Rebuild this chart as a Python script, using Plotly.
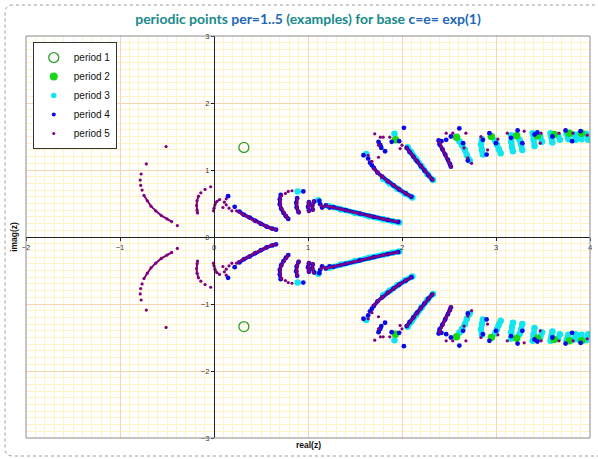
import plotly.graph_objects as go

# ---- periodic points of z -> exp(z) (base c = e) ----
# period 1: the fixed point pair
p1_re = [0.318, 0.318]
p1_im = [1.337, -1.337]

# period 2: points in the upper half plane (conjugates added below)
p2_upper = [(1.93, 1.45), (2.58, 1.49), (2.95, 1.50), (3.22, 1.51),
            (3.44, 1.51), (3.62, 1.53), (3.78, 1.55), (3.91, 1.55)]

# period 3: upper half plane, grouped into branches (single points are lone dots)
p3_upper = [
    [(0.89, 0.68)], [(1.11, 0.55)], [(1.62, 1.24)], [(1.92, 1.54)],
    [(1.22, 0.46), (1.35, 0.41), (1.50, 0.36), (1.65, 0.31), (1.80, 0.265), (1.90, 0.235), (1.97, 0.215)],
    [(1.80, 0.87), (1.87, 0.80), (1.95, 0.72), (2.03, 0.65), (2.11, 0.59)],
    [(2.06, 1.34), (2.10, 1.26), (2.15, 1.16), (2.21, 1.05), (2.27, 0.94), (2.33, 0.85)],
    [(2.61, 1.43), (2.64, 1.37), (2.67, 1.30), (2.69, 1.22), (2.72, 1.14)],
    [(2.85, 1.46), (2.84, 1.38), (2.85, 1.30), (2.86, 1.23)],
    [(2.99, 1.44), (3.01, 1.38), (3.03, 1.31), (3.05, 1.25)],
    [(3.16, 1.52), (3.16, 1.42), (3.17, 1.34), (3.18, 1.28)],
    [(3.25, 1.45), (3.27, 1.38), (3.28, 1.30)],
    [(3.39, 1.55), (3.40, 1.45), (3.41, 1.36)],
    [(3.47, 1.50), (3.49, 1.42)],
    [(3.58, 1.55), (3.59, 1.48), (3.60, 1.41)],
    [(3.66, 1.52), (3.68, 1.45)],
    [(3.75, 1.54), (3.77, 1.46)],
    [(3.83, 1.53), (3.85, 1.45)],
    [(3.89, 1.54), (3.91, 1.46)],
    [(3.96, 1.54), (3.98, 1.45)],
]

# period 4
p4_upper = [
    [(0.15, 0.61)], [(0.22, 0.45)],
    [(0.27, 0.38), (0.32, 0.33), (0.38, 0.29), (0.44, 0.24), (0.50, 0.195), (0.56, 0.155), (0.62, 0.125), (0.66, 0.11)],
    [(0.71, 0.63), (0.70, 0.56), (0.70, 0.49), (0.715, 0.42), (0.74, 0.36), (0.765, 0.31), (0.79, 0.27)],
    [(0.95, 0.68)],
    [(0.885, 0.58), (0.875, 0.51), (0.88, 0.44), (0.90, 0.37)],
    [(1.01, 0.52), (1.00, 0.45), (1.01, 0.39)],
    [(1.065, 0.53), (1.045, 0.47), (1.05, 0.41)],
    [(1.12, 0.54)], [(1.13, 0.49)], [(1.15, 0.44)], [(1.19, 0.47)], [(1.23, 0.44)],
    [(1.27, 0.445), (1.40, 0.40), (1.55, 0.35), (1.70, 0.30), (1.85, 0.255), (1.96, 0.225)],
    [(1.70, 1.03), (1.74, 0.96), (1.79, 0.90), (1.85, 0.83), (1.91, 0.77), (1.97, 0.71), (2.04, 0.65), (2.10, 0.60)],
    [(1.59, 1.22)], [(1.66, 1.11)], [(1.68, 1.07)], [(1.64, 1.17)],
    [(1.75, 1.42), (1.77, 1.37), (1.78, 1.33)], [(1.82, 1.28)], [(1.89, 1.42)],
    [(2.02, 1.63)], [(1.97, 1.43)],
    [(2.05, 1.33), (2.08, 1.27), (2.12, 1.20), (2.16, 1.13), (2.20, 1.06), (2.24, 0.99), (2.28, 0.92), (2.32, 0.86)],
    [(2.39, 1.44), (2.40, 1.38), (2.43, 1.31), (2.46, 1.23), (2.49, 1.15), (2.51, 1.09), (2.52, 1.05)],
    [(2.42, 1.43)], [(2.47, 1.45)], [(2.52, 1.50)], [(2.61, 1.62)], [(2.65, 1.40)], [(2.70, 1.14)],
    [(2.86, 1.45)], [(2.90, 1.23)], [(2.93, 1.55)], [(3.00, 1.40)],
    [(3.16, 1.48)], [(3.23, 1.59)], [(3.28, 1.40)], [(3.41, 1.53)], [(3.44, 1.56)],
    [(3.60, 1.50)], [(3.74, 1.59)], [(3.81, 1.43)], [(3.90, 1.58)],
]

# period 5
p5_upper = [
    [(-0.51, 1.35)],
    [(-0.72, 1.09)], [(-0.775, 0.94)], [(-0.785, 0.85)], [(-0.78, 0.77)], [(-0.765, 0.70)],
    [(-0.745, 0.62), (-0.71, 0.54), (-0.67, 0.46), (-0.62, 0.39), (-0.56, 0.32), (-0.50, 0.27), (-0.45, 0.23)],
    [(-0.39, 0.17)],
    [(-0.035, 0.75)], [(-0.095, 0.71)], [(-0.14, 0.66)],
    [(-0.165, 0.61), (-0.18, 0.54), (-0.185, 0.47), (-0.18, 0.40), (-0.175, 0.36)],
    [(0.06, 0.56), (0.03, 0.53), (0.01, 0.48), (0.0, 0.43), (-0.005, 0.39)],
    [(0.095, 0.44)], [(0.13, 0.48)], [(0.16, 0.43)], [(0.19, 0.39)], [(0.13, 0.57)], [(0.11, 0.52)],
    [(0.24, 0.39), (0.30, 0.34), (0.36, 0.30), (0.42, 0.25), (0.48, 0.21), (0.54, 0.17), (0.60, 0.13), (0.65, 0.11)],
    [(0.72, 0.62), (0.705, 0.55), (0.705, 0.48), (0.72, 0.42), (0.745, 0.36), (0.77, 0.31), (0.785, 0.28)],
    [(0.76, 0.65)], [(0.79, 0.68)], [(0.83, 0.69)],
    [(0.885, 0.57), (0.88, 0.50), (0.885, 0.43), (0.905, 0.36)],
    [(1.01, 0.52), (1.005, 0.45), (1.01, 0.38)],
    [(1.06, 0.53), (1.045, 0.47), (1.055, 0.40)],
    [(1.14, 0.47)], [(1.17, 0.45)], [(1.20, 0.47)],
    [(1.23, 0.455), (1.35, 0.415), (1.50, 0.365), (1.65, 0.315), (1.80, 0.27), (1.95, 0.23)],
    [(1.70, 1.02), (1.74, 0.96), (1.79, 0.90), (1.85, 0.83), (1.91, 0.77), (1.97, 0.71), (2.04, 0.65), (2.09, 0.61)],
    [(1.71, 1.54)], [(1.77, 1.49)], [(1.80, 1.49)], [(1.87, 1.49)], [(1.75, 1.19)], [(1.75, 1.37)],
    [(1.98, 1.32)], [(2.00, 1.37)], [(1.64, 1.22)], [(1.68, 1.13)],
    [(2.05, 1.33), (2.10, 1.24), (2.15, 1.15), (2.20, 1.06), (2.25, 0.97), (2.30, 0.89), (2.33, 0.85)],
    [(2.40, 1.42), (2.42, 1.35), (2.44, 1.28), (2.47, 1.20), (2.50, 1.12), (2.52, 1.05)],
    [(2.47, 1.55)], [(2.54, 1.55)], [(2.68, 1.55)], [(2.70, 1.18)], [(2.74, 1.10)], [(2.66, 1.33)],
    [(2.84, 1.50)], [(3.02, 1.46)], [(2.91, 1.30)],
    [(3.12, 1.55)], [(3.30, 1.58)], [(3.48, 1.55)], [(3.47, 1.40)], [(3.67, 1.55)], [(3.82, 1.55)], [(3.97, 1.52)],
]


def conjugate_pairs(branches):
    """Flatten branches of the upper half plane and add their complex conjugates."""
    re, im = [], []
    for sign in (1, -1):
        for branch in branches:
            for a, b in branch:
                re.append(a)
                im.append(sign * b)
            re.append(None)
            im.append(None)
    return re, im


p2_re, p2_im = conjugate_pairs([[pt] for pt in p2_upper])
p3_re, p3_im = conjugate_pairs(p3_upper)
p4_re, p4_im = conjugate_pairs(p4_upper)
p5_re, p5_im = conjugate_pairs(p5_upper)

C1, C2, C3, C4, C5 = "#2e9e2e", "#16d816", "#12e4f0", "#0a0ae6", "#80007f"

fig = go.Figure()

# branches drawn as dotted strokes
fig.add_trace(go.Scatter(x=p3_re, y=p3_im, mode="lines+markers", showlegend=False,
                         line=dict(color=C3, width=5.5), marker=dict(color=C3, size=6.5)))
fig.add_trace(go.Scatter(x=p2_re, y=p2_im, mode="markers", showlegend=False,
                         marker=dict(color=C2, size=7.5)))
fig.add_trace(go.Scatter(x=p4_re, y=p4_im, mode="lines+markers", showlegend=False,
                         line=dict(color=C4, width=3.6), marker=dict(color=C4, size=4.8)))
fig.add_trace(go.Scatter(x=p5_re, y=p5_im, mode="lines+markers", showlegend=False,
                         line=dict(color=C5, width=2), marker=dict(color=C5, size=3.2)))
fig.add_trace(go.Scatter(x=p1_re, y=p1_im, mode="markers", name="period 1",
                         marker=dict(color="rgba(0,0,0,0)", size=10, line=dict(color=C1, width=1.3))))

# legend entries
fig.add_trace(go.Scatter(x=[None], y=[None], mode="markers", name="period 2",
                         marker=dict(color=C2, size=8)))
fig.add_trace(go.Scatter(x=[None], y=[None], mode="markers", name="period 3",
                         marker=dict(color=C3, size=5.5)))
fig.add_trace(go.Scatter(x=[None], y=[None], mode="markers", name="period 4",
                         marker=dict(color=C4, size=4)))
fig.add_trace(go.Scatter(x=[None], y=[None], mode="markers", name="period 5",
                         marker=dict(color=C5, size=3)))

MAJOR = "#f9d4b0"
MINOR = "#fdf3c6"
axis_common = dict(
    dtick=1, tick0=0, showgrid=True, gridcolor=MAJOR, gridwidth=1,
    minor=dict(dtick=0.1, showgrid=True, gridcolor=MINOR, gridwidth=1),
    zeroline=False, showline=True, linecolor="#222", linewidth=1.3,
    ticks="outside", ticklen=3, tickcolor="#222", tickwidth=1,
    tickfont=dict(family="Liberation Sans, Arial", size=7.5, color="#333"),
    anchor="free", fixedrange=True,
)

fig.update_layout(
    width=598, height=459, autosize=False,
    margin=dict(l=26, r=6, t=36, b=21),
    paper_bgcolor="white", plot_bgcolor="white",
    xaxis=dict(range=[-2, 4], position=0.5, **axis_common),
    yaxis=dict(range=[-3, 3], position=1 / 3, **axis_common),
    title=dict(
        text=("<b><span style='color:#178a8c'>periodic points </span>"
              "<span style='color:#2267b8'>per=1..5</span>"
              "<span style='color:#178a8c'> (examples) for base </span>"
              "<span style='color:#2267b8'>c=e= exp(1)</span></b>"),
        x=0.5, xref="paper", xanchor="center", y=1 - 19 / 459, yanchor="middle",
        font=dict(family="Lato, Open Sans, sans-serif", size=14),
    ),
    legend=dict(x=0.012, y=0.985, xanchor="left", yanchor="top",
                bgcolor="white", bordercolor="#333", borderwidth=1,
                font=dict(family="Liberation Sans, Arial", size=10, color="#111"),
                itemwidth=30, tracegroupgap=0),
    annotations=[
        dict(text="<b>real(z)</b>", xref="paper", yref="paper", x=0.5, y=-0.035,
             showarrow=False, font=dict(family="Liberation Sans, Arial", size=8.5, color="#111")),
        dict(text="<b>imag(z)</b>", xref="paper", yref="paper", x=-0.034, y=0.5, textangle=-90,
             showarrow=False, font=dict(family="Liberation Sans, Arial", size=8.5, color="#111")),
    ],
    shapes=[
        # frame around the plotting area
        dict(type="rect", xref="paper", yref="paper", x0=0, y0=0, x1=1, y1=1,
             line=dict(color="#8a8a8a", width=1)),
        # dotted rounded page outline
        dict(type="path", xref="paper", yref="paper",
             path=("M 1.03,1.0771 L -0.0230,1.0771 Q -0.0371,1.0771 -0.0371,1.0572 "
                   "L -0.0371,-0.0250 Q -0.0371,-0.0448 -0.0230,-0.0448 L 1.03,-0.0448"),
             line=dict(color="#9a9a9a", width=1, dash="dot")),
    ],
)

fig.write_html("out.html")
